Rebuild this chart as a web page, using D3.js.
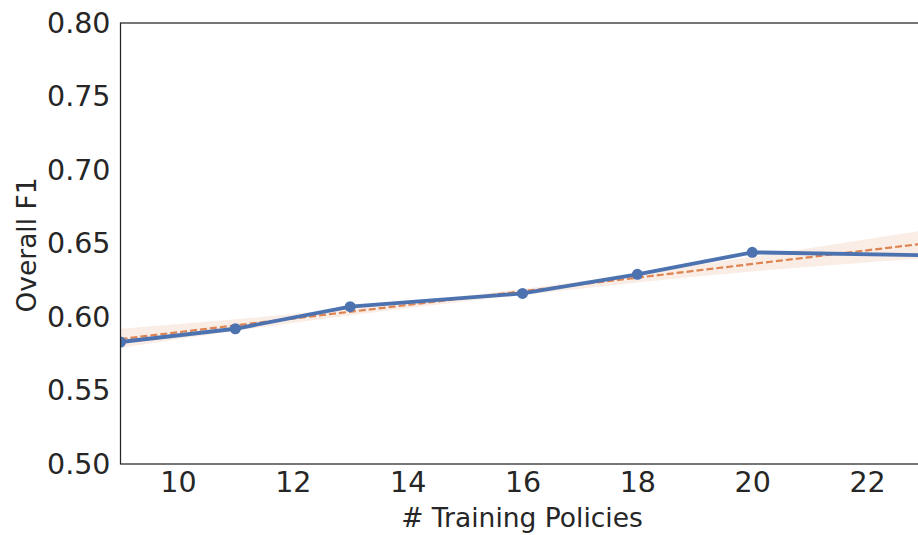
<!DOCTYPE html>
<html>
<head>
<meta charset="utf-8">
<script src="https://cdn.jsdelivr.net/npm/d3@7"></script>
<style>
  body { margin: 0; background: white; }
  svg { display: block; }
  text { font-family: "DejaVu Sans", sans-serif; fill: #262626; }
</style>
</head>
<body>
<svg width="918" height="535"></svg>
<script>
// measured points
var policies = [9, 11, 13, 16, 18, 20, 23];
var f1 = [0.583, 0.592, 0.607, 0.616, 0.629, 0.644, 0.642];

// regression fit and its confidence band
var fitX = [9, 23];
var fitY = [0.585, 0.650];
var bandX = [9, 12, 16, 20, 23];
var bandLow = [0.579, 0.596, 0.615, 0.631, 0.640];
var bandHigh = [0.592, 0.602, 0.619, 0.641, 0.659];

var xTicks = [10, 12, 14, 16, 18, 20, 22];
var yTicks = [0.50, 0.55, 0.60, 0.65, 0.70, 0.75, 0.80];

function draw() {
  var svg = d3.select("svg");
  var mLeft = 120.5, mTop = 23, mRight = 924.5, mBottom = 464;

  var x = d3.scaleLinear().domain([9, 23]).range([mLeft, mRight]);
  var y = d3.scaleLinear().domain([0.50, 0.80]).range([mBottom, mTop]);

  svg.append("defs").append("clipPath").attr("id", "plot")
    .append("rect").attr("x", mLeft).attr("y", mTop)
    .attr("width", mRight - mLeft).attr("height", mBottom - mTop);

  var plot = svg.append("g").attr("clip-path", "url(#plot)");

  var band = bandX.map(function(d, i) { return [d, bandLow[i], bandHigh[i]]; });
  plot.append("path")
    .datum(band)
    .attr("fill", "#dd8452")
    .attr("fill-opacity", 0.15)
    .attr("d", d3.area()
      .curve(d3.curveMonotoneX)
      .x(function(d) { return x(d[0]); })
      .y0(function(d) { return y(d[1]); })
      .y1(function(d) { return y(d[2]); }));

  plot.append("path")
    .datum(fitX.map(function(d, i) { return [d, fitY[i]]; }))
    .attr("fill", "none")
    .attr("stroke", "#dd8452")
    .attr("stroke-width", 2.2)
    .attr("stroke-dasharray", "7,3")
    .attr("d", d3.line()
      .x(function(d) { return x(d[0]); })
      .y(function(d) { return y(d[1]); }));

  var pts = policies.map(function(d, i) { return [d, f1[i]]; });
  plot.append("path")
    .datum(pts)
    .attr("fill", "none")
    .attr("stroke", "#4c72b0")
    .attr("stroke-width", 3.8)
    .attr("d", d3.line()
      .x(function(d) { return x(d[0]); })
      .y(function(d) { return y(d[1]); }));

  plot.selectAll("circle")
    .data(pts)
    .enter()
    .append("circle")
    .attr("cx", function(d) { return x(d[0]); })
    .attr("cy", function(d) { return y(d[1]); })
    .attr("r", 5.5)
    .attr("fill", "#4c72b0");

  // frame
  svg.append("rect")
    .attr("x", mLeft).attr("y", mTop)
    .attr("width", mRight - mLeft).attr("height", mBottom - mTop)
    .attr("fill", "none")
    .attr("stroke", "#262626")
    .attr("stroke-width", 1.25);

  var xAxis = svg.append("g")
    .attr("transform", "translate(0," + mBottom + ")")
    .call(d3.axisBottom(x).tickValues(xTicks).tickSize(0).tickPadding(8).tickFormat(d3.format("d")));
  var yAxis = svg.append("g")
    .attr("transform", "translate(" + mLeft + ",0)")
    .call(d3.axisLeft(y).tickValues(yTicks).tickSize(0).tickPadding(10).tickFormat(d3.format(".2f")));
  [xAxis, yAxis].forEach(function(a) {
    a.select(".domain").remove();
    a.selectAll("text").attr("font-family", "DejaVu Sans").attr("font-size", 28.5).attr("fill", "#262626");
  });

  svg.append("text")
    .attr("x", 522).attr("y", 527)
    .attr("text-anchor", "middle")
    .attr("font-size", 26.5)
    .text("# Training Policies");

  svg.append("text")
    .attr("transform", "translate(36,245)rotate(-90)")
    .attr("text-anchor", "middle")
    .attr("font-size", 26.5)
    .text("Overall F1");
}
draw();
</script>
</body>
</html>
